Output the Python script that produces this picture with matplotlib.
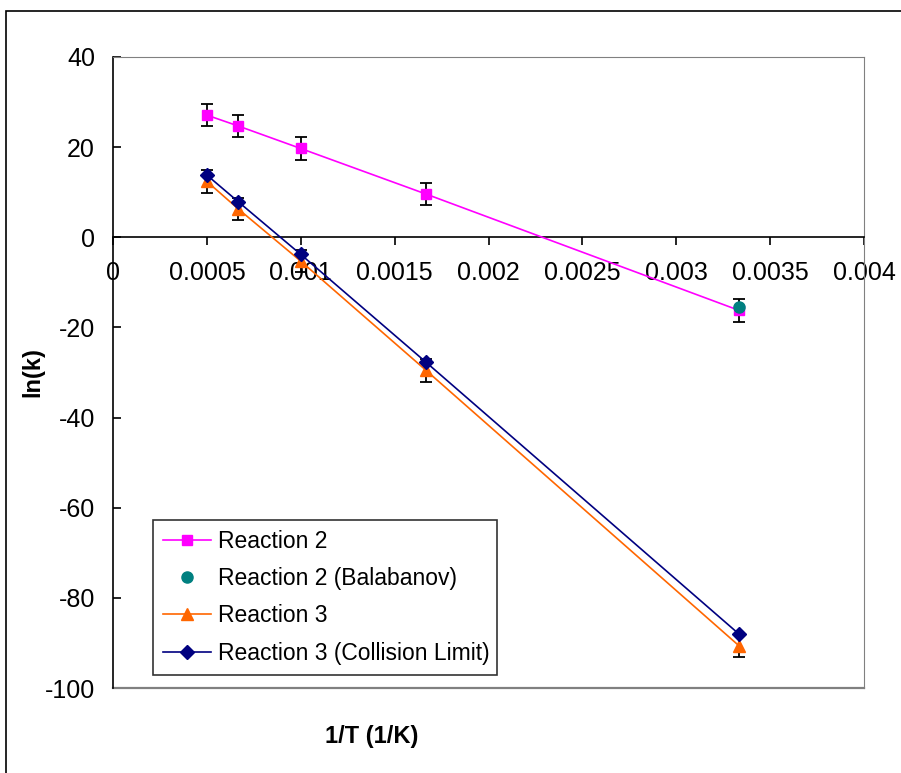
import numpy as np
import matplotlib.pyplot as plt
from matplotlib.patches import Rectangle

plt.rcParams['font.family'] = ['Liberation Sans', 'DejaVu Sans']
plt.rcParams['axes.unicode_minus'] = False

# 1/T values (2000 K, 1500 K, 1000 K, 600 K, 300 K)
inv_T = [1/2000, 1/1500, 1/1000, 1/600, 1/300]
rxn2 = [27.1, 24.7, 19.7, 9.6, -16.2]
rxn2_err = [2.5, 2.5, 2.5, 2.5, 2.5]
bal_x = [1/300]
bal_y = [-15.4]
rxn3 = [12.4, 6.3, -5.3, -29.5, -90.6]
rxn3_err = [2.5, 2.5, 2.5, 2.5, 2.5]
rxn3_coll = [13.8, 7.9, -3.8, -27.7, -88.0]

fig = plt.figure(figsize=(9.01, 7.73), dpi=100)
ax = fig.add_axes([113/901, 1-688/773, (864-113)/901, (688-57)/773])

# outer chart border (cropped on right/bottom)
fig.patches.append(Rectangle((6/901, -0.2), 1.2, 1-11/773+0.2, transform=fig.transFigure,
                             fill=False, edgecolor='black', lw=1.2))

ax.errorbar(inv_T, rxn2, yerr=rxn2_err, fmt='none', ecolor='black', elinewidth=1.3, capsize=4.5, capthick=1.3, zorder=2)
ax.errorbar(inv_T, rxn3, yerr=rxn3_err, fmt='none', ecolor='black', elinewidth=1.3, capsize=4.5, capthick=1.3, zorder=2)

ax.plot(inv_T, rxn2, color='#FF00FF', marker='s', markersize=7.5, lw=1.2, label='Reaction 2', zorder=3)
ax.plot(bal_x, bal_y, color='#008080', marker='o', markersize=8, ls='none', label='Reaction 2 (Balabanov)', zorder=4)
ax.plot(inv_T, rxn3, color='#FF6600', marker='^', markersize=8.5, lw=1.2, label='Reaction 3', zorder=3)
ax.plot(inv_T, rxn3_coll, color='#000080', marker='D', markersize=7, lw=1.2, label='Reaction 3 (Collision Limit)', zorder=4)

ax.set_xlim(0, 0.004)
ax.set_ylim(-100, 40)
ax.set_xticks([0, 0.0005, 0.001, 0.0015, 0.002, 0.0025, 0.003, 0.0035, 0.004])
ax.set_xticklabels(['0', '0.0005', '0.001', '0.0015', '0.002', '0.0025', '0.003', '0.0035', '0.004'])
ax.set_yticks(np.arange(-100, 41, 20))

ax.spines['bottom'].set_position(('data', 0))
ax.spines['bottom'].set_color('black')
ax.spines['left'].set_color('black')
for s in ['top', 'right']:
    ax.spines[s].set_color('#808080')
ax.spines['bottom'].set_linewidth(1.2)
ax.spines['left'].set_linewidth(1.2)
# gray frame line at the bottom of the plot area
ax.axhline(-100, color='#808080', lw=1.6, clip_on=False)

ax.tick_params(axis='x', direction='out', length=6, width=1.2, pad=11, labelsize=18)
ax.tick_params(axis='y', direction='in', length=6, width=1.2, pad=13, labelsize=18)

fig.text(33/901, 1-372/773, 'ln(k)', rotation=90, ha='center', va='center', fontsize=17, fontweight='bold')
fig.text(372/901, 1-737/773, '1/T (1/K)', ha='center', va='center', fontsize=17, fontweight='bold')

leg = ax.legend(loc='lower left', bbox_to_anchor=((153-113)/751, (688-675)/631, (497-153)/751, (675-521)/631),
                mode='expand', fontsize=16.5, frameon=True, fancybox=False, edgecolor='black',
                handlelength=2.1, handletextpad=0.3, labelspacing=0.62, borderaxespad=0, borderpad=0.45)
leg.get_frame().set_linewidth(1.2)

plt.savefig('out.png', dpi=100)
